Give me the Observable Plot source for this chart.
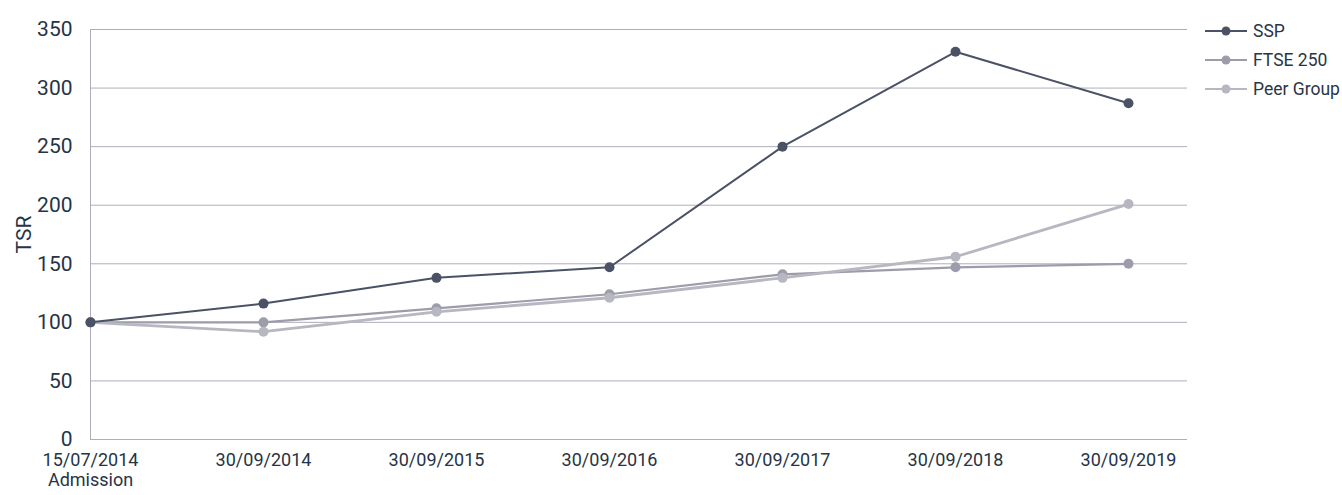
<!DOCTYPE html>
<html>
<head>
<meta charset="utf-8">
<script src="https://cdn.jsdelivr.net/npm/d3@7"></script>
<script src="https://cdn.jsdelivr.net/npm/@observablehq/plot@0.6"></script>
<style>
  html, body { margin: 0; padding: 0; background: #fff; }
  #wrap { position: relative; width: 1342px; height: 495px; font-family: Roboto, "Noto Sans", sans-serif; }
  #chart { position: absolute; left: 0; top: 0; }
  #legend { position: absolute; left: 1205px; top: 16px; }
  .item { display: flex; align-items: center; height: 29px; font-size: 17.5px; color: #2a3646; }
  .item svg { margin-right: 6px; }
</style>
</head>
<body>
<div id="wrap"><div id="chart"></div><div id="legend"></div></div>
<script>
const dates = ["15/07/2014", "30/09/2014", "30/09/2015", "30/09/2016", "30/09/2017", "30/09/2018", "30/09/2019"];
const seriesNames = ["SSP", "FTSE 250", "Peer Group"];
const ssp = [100, 116, 138, 147, 250, 331, 287];
const ftse = [100, 100, 112, 124, 141, 147, 150];
const peer = [100, 92, 109, 121, 138, 156, 201];
const yTicks = [0, 50, 100, 150, 200, 250, 300, 350];
const firstNote = "Admission";

const colors = {"SSP": "#4b5265", "FTSE 250": "#9c9caa", "Peer Group": "#b7b7c2"};
const widths = {"SSP": 2, "FTSE 250": 2.2, "Peer Group": 2.8};

const rows = [];
[["FTSE 250", ftse], ["Peer Group", peer], ["SSP", ssp]].forEach(([name, vals]) => {
  vals.forEach((v, i) => rows.push({series: name, date: dates[i], value: v}));
});

const marks = [
  Plot.ruleY(yTicks, {stroke: "#aeaebb", strokeWidth: 1}),
  Plot.ruleX([dates[0]], {y1: 0, y2: 350, stroke: "#aeaebb", strokeWidth: 1}),
  Plot.axisY({ticks: yTicks, tickSize: 0, tickPadding: 18, fontSize: 21, label: "TSR", labelAnchor: "center", labelArrow: "none", labelOffset: 74, color: "#263445"}),
  Plot.axisX({tickSize: 0, tickPadding: 12, fontSize: 18, lineHeight: 1.12, color: "#263445",
    tickFormat: d => d === dates[0] ? d + "\n" + firstNote : d, label: null})
];
["FTSE 250", "Peer Group", "SSP"].forEach(name => {
  const data = rows.filter(r => r.series === name);
  marks.push(Plot.line(data, {x: "date", y: "value", stroke: colors[name], strokeWidth: widths[name]}));
  marks.push(Plot.dot(data, {x: "date", y: "value", fill: colors[name], r: 5}));
});

const plot = Plot.plot({
  width: 1200,
  height: 495,
  marginLeft: 90,
  marginRight: 13,
  marginTop: 29,
  marginBottom: 56,
  style: {fontFamily: "Roboto, 'Noto Sans', sans-serif", background: "transparent", color: "#263445"},
  x: {type: "point", domain: dates, padding: 0, insetRight: 59},
  y: {domain: [0, 350]},
  marks
});
document.getElementById("chart").appendChild(plot);

const legend = document.getElementById("legend");
seriesNames.forEach(name => {
  const item = document.createElement("div");
  item.className = "item";
  item.innerHTML = `<svg width="42" height="12"><line x1="0" y1="6" x2="42" y2="6" stroke="${colors[name]}" stroke-width="2"/><circle cx="21" cy="6" r="4.5" fill="${colors[name]}"/></svg><span>${name}</span>`;
  legend.appendChild(item);
});
</script>
</body>
</html>
